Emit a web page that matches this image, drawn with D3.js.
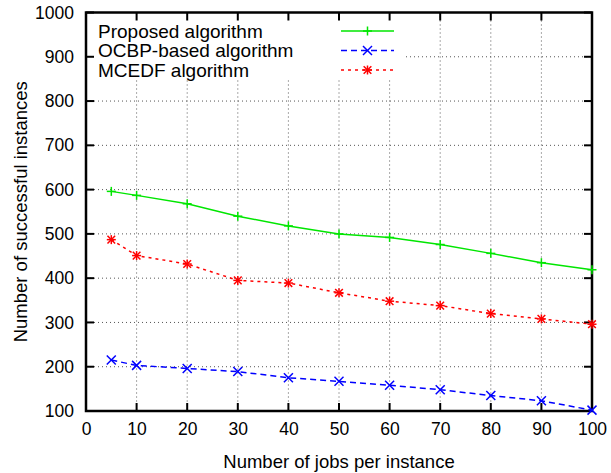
<!DOCTYPE html>
<html>
<head>
<meta charset="utf-8">
<script src="https://cdn.jsdelivr.net/npm/d3@7"></script>
<style>
  body { margin: 0; background: #fff; }
  text { font-family: "Liberation Sans", Arial, sans-serif; fill: #000; }
</style>
</head>
<body>
<div id="chart"></div>
<script>
// data
var jobs = [5, 10, 20, 30, 40, 50, 60, 70, 80, 90, 100];
var proposed = [596, 587, 568, 540, 518, 500, 492, 476, 456, 435, 419];
var ocbp     = [215, 203, 196, 189, 175, 167, 158, 148, 135, 123, 102];
var mcedf    = [487, 451, 432, 395, 389, 367, 348, 338, 320, 308, 296];
var seriesNames = ["Proposed algorithm", "OCBP-based algorithm", "MCEDF algorithm"];
var xTicks = [0, 10, 20, 30, 40, 50, 60, 70, 80, 90, 100];
var yTicks = [100, 200, 300, 400, 500, 600, 700, 800, 900, 1000];

var W = 611, H = 473;
var margin = {top: 12.5, right: 19, bottom: 62, left: 86};
var w = W - margin.left - margin.right,
    h = H - margin.top - margin.bottom;

var svg = d3.select("#chart").append("svg")
    .attr("width", W)
    .attr("height", H);

var g = svg.append("g")
    .attr("transform", "translate(" + margin.left + "," + margin.top + ")");

var x = d3.scaleLinear().domain([0, 100]).range([0, w]);
var y = d3.scaleLinear().domain([100, 1000]).range([h, 0]);

// grid (dotted)
var grid = g.append("g").attr("class", "grid");
grid.selectAll(".gx").data(xTicks.slice(1, -1)).enter().append("line")
    .attr("x1", d => x(d)).attr("x2", d => x(d))
    .attr("y1", 0).attr("y2", h);
grid.selectAll(".gy").data(yTicks.slice(1, -1)).enter().append("line")
    .attr("x1", 0).attr("x2", w)
    .attr("y1", d => y(d)).attr("y2", d => y(d));
grid.selectAll("line")
    .attr("stroke", "#555")
    .attr("stroke-width", 1)
    .attr("stroke-dasharray", "1,3");

// key box hides the grid behind it
g.append("rect")
    .attr("x", 0).attr("y", 0)
    .attr("width", 320).attr("height", 65.5)
    .attr("fill", "#fff");

// ticks on all four sides, pointing inward
var tl = 8;
var ticks = g.append("g").attr("stroke", "#000").attr("stroke-width", 2);
xTicks.forEach(function(d) {
  ticks.append("line").attr("x1", x(d)).attr("x2", x(d)).attr("y1", h).attr("y2", h - tl);
  ticks.append("line").attr("x1", x(d)).attr("x2", x(d)).attr("y1", 0).attr("y2", tl);
});
yTicks.forEach(function(d) {
  ticks.append("line").attr("x1", 0).attr("x2", tl).attr("y1", y(d)).attr("y2", y(d));
  ticks.append("line").attr("x1", w).attr("x2", w - tl).attr("y1", y(d)).attr("y2", y(d));
});

// axes labels via d3 axes, lines hidden
var xAxis = g.append("g")
    .attr("transform", "translate(0," + h + ")")
    .call(d3.axisBottom(x).tickValues(xTicks).tickFormat(d3.format("d")).tickSize(0).tickPadding(12));
var yAxis = g.append("g")
    .call(d3.axisLeft(y).tickValues(yTicks).tickFormat(d3.format("d")).tickSize(0).tickPadding(12));
[xAxis, yAxis].forEach(function(a) {
  a.select(".domain").remove();
  a.selectAll("text")
    .style("font-family", "'Liberation Sans', Arial, sans-serif")
    .style("font-size", "17.5px")
    .attr("fill", "#000");
});

// frame
g.append("rect")
    .attr("x", 0).attr("y", 0).attr("width", w).attr("height", h)
    .attr("fill", "none").attr("stroke", "#000").attr("stroke-width", 2.5);

// series
var series = [
  {name: seriesNames[0], values: proposed, color: "#00e600", dash: null, marker: "plus"},
  {name: seriesNames[1], values: ocbp, color: "#0000ff", dash: "6,4", marker: "cross"},
  {name: seriesNames[2], values: mcedf, color: "#ff0000", dash: "3,4", marker: "star"}
];

var line = d3.line()
    .x(d => x(d[0]))
    .y(d => y(d[1]));

function drawMarker(sel, type, cx, cy, color) {
  var s = 4.5;
  var m = sel.append("g").attr("stroke", color).attr("stroke-width", 1.5).attr("fill", "none");
  if (type === "plus" || type === "star") {
    m.append("line").attr("x1", cx - s).attr("x2", cx + s).attr("y1", cy).attr("y2", cy);
    m.append("line").attr("x1", cx).attr("x2", cx).attr("y1", cy - s).attr("y2", cy + s);
  }
  if (type === "cross" || type === "star") {
    var c = type === "star" ? s * 0.85 : s;
    m.append("line").attr("x1", cx - c).attr("x2", cx + c).attr("y1", cy - c).attr("y2", cy + c);
    m.append("line").attr("x1", cx - c).attr("x2", cx + c).attr("y1", cy + c).attr("y2", cy - c);
  }
}

series.forEach(function(s) {
  var pts = jobs.map((j, i) => [j, s.values[i]]);
  g.append("path")
    .attr("d", line(pts))
    .attr("fill", "none")
    .attr("stroke", s.color)
    .attr("stroke-width", 1.5)
    .attr("stroke-dasharray", s.dash);
  pts.forEach(function(p) {
    drawMarker(g, s.marker, x(p[0]), y(p[1]), s.color);
  });
});

// legend
var key = g.append("g");
series.forEach(function(s, i) {
  var ky = 18.5 + i * 19.5;
  key.append("text")
    .attr("x", 12).attr("y", ky)
    .attr("dy", "0.35em")
    .style("font-size", "19px")
    .text(s.name);
  key.append("line")
    .attr("x1", 255).attr("x2", 308)
    .attr("y1", ky).attr("y2", ky)
    .attr("stroke", s.color)
    .attr("stroke-width", 1.5)
    .attr("stroke-dasharray", s.dash);
  drawMarker(key, s.marker, 281.5, ky, s.color);
});

// axis titles
svg.append("text")
    .attr("x", margin.left + w / 2).attr("y", 468)
    .attr("text-anchor", "middle")
    .style("font-size", "18.5px")
    .text("Number of jobs per instance");
svg.append("text")
    .attr("transform", "translate(27," + (margin.top + h / 2) + ") rotate(-90)")
    .attr("text-anchor", "middle")
    .style("font-size", "18.5px")
    .text("Number of successful instances");
</script>
</body>
</html>
